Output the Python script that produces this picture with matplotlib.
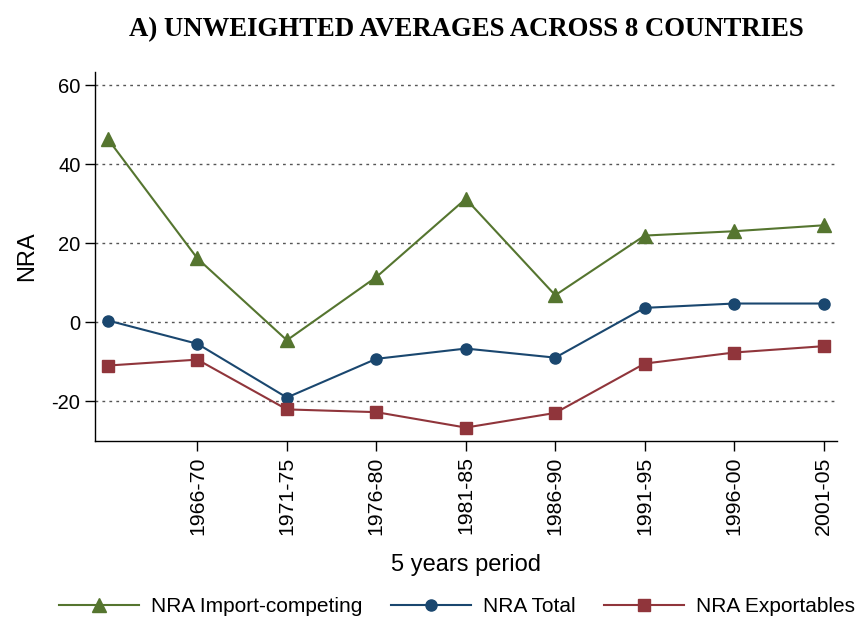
from matplotlib import pyplot as plt
import matplotlib
matplotlib.rcParams['font.family'] = 'Liberation Sans'
matplotlib.rcParams['axes.unicode_minus'] = False
matplotlib.rcParams.update({'font.size': 14.5})

periods = ['1961-65', '1966-70', '1971-75', '1976-80', '1981-85',
           '1986-90', '1991-95', '1996-00', '2001-05']
nra_import = [46.3, 16.1, -4.6, 11.4, 31.2, 6.8, 21.9, 23.0, 24.5]
nra_total = [0.4, -5.5, -19.1, -9.3, -6.7, -9.0, 3.6, 4.7, 4.7]
nra_export = [-11.0, -9.5, -22.1, -22.8, -26.7, -23.0, -10.5, -7.7, -6.1]

c_green = '#55752f'
c_navy = '#1a476f'
c_maroon = '#90353b'


def main():
	fig = plt.figure(figsize=(8.67, 6.22), dpi=100)
	ax = fig.add_axes([0.1096, 0.291, 0.9654 - 0.1096, 0.8842 - 0.291])
	x = list(range(len(periods)))

	ax.plot(x, nra_import, color=c_green, marker='^', ms=10, lw=1.5,
		label='NRA Import-competing')
	ax.plot(x, nra_total, color=c_navy, marker='o', ms=8, lw=1.5,
		label='NRA Total')
	ax.plot(x, nra_export, color=c_maroon, marker='s', ms=8, lw=1.5,
		label='NRA Exportables')

	ax.set_xlim(-0.145, 8.15)
	ax.set_ylim(-30.1, 63.3)
	ax.set_yticks([-20, 0, 20, 40, 60])
	ax.set_xticks(x[1:])
	ax.set_xticklabels(periods[1:], rotation=90, fontsize=15.3)
	ax.set_axisbelow(True)
	ax.grid(axis='y', color='#555555', linestyle=(0, (2, 3)), linewidth=1)
	ax.tick_params(axis='both', length=7, width=1, colors='black')
	ax.tick_params(axis='x', pad=4)
	for side in ['top', 'right']:
		ax.spines[side].set_visible(False)
	for side in ['left', 'bottom']:
		ax.spines[side].set_linewidth(1)

	ax.set_ylabel('NRA', fontsize=17, labelpad=10)
	ax.set_xlabel('5 years period', fontsize=17, labelpad=14)
	fig.text(0.538, 0.952, 'A) UNWEIGHTED AVERAGES ACROSS 8 COUNTRIES',
		ha='center', va='center', fontsize=19.3, fontweight='bold',
		family='Liberation Serif')

	fig.legend(loc='center', bbox_to_anchor=(0.527, 0.025), ncol=3, frameon=False,
		fontsize=15, handlelength=3.85, columnspacing=1.35, handletextpad=0.58)

	fig.savefig('out.png', dpi=100)


if __name__ == '__main__':
	main()
